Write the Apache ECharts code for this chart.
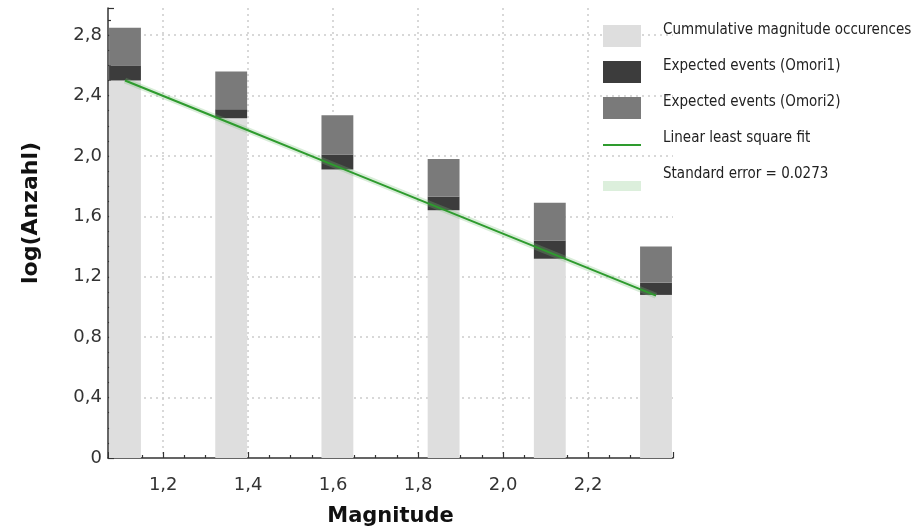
<!DOCTYPE html>
<html><head><meta charset="utf-8">
<script src="https://cdn.jsdelivr.net/npm/echarts@6/dist/echarts.min.js"></script>
<style>html,body{margin:0;padding:0;background:#fff}#c{width:923px;height:530px}</style>
</head><body><div id="c"></div>
<script>
// ---- data ----
const magnitudes = [1.11, 1.36, 1.61, 1.86, 2.11, 2.36];
const cumulative = [2.50, 2.25, 1.91, 1.64, 1.32, 1.08];
const omori1 = [2.60, 2.31, 2.01, 1.73, 1.44, 1.16];
const omori2 = [2.85, 2.56, 2.27, 1.98, 1.69, 1.40];
const fitValues = [2.50, 2.215, 1.93, 1.645, 1.36, 1.075];
const standardError = 0.0273;
const xTickValues = [1.2, 1.4, 1.6, 1.8, 2.0, 2.2];
const xTickLabels = ['1,2', '1,4', '1,6', '1,8', '2,0', '2,2'];
const yTickValues = [0, 0.4, 0.8, 1.2, 1.6, 2.0, 2.4, 2.8];
const yTickLabels = ['0', '0,4', '0,8', '1,2', '1,6', '2,0', '2,4', '2,8'];
const seriesNames = ['Cummulative magnitude occurences', 'Expected events (Omori1)', 'Expected events (Omori2)', 'Linear least square fit', 'Standard error = ' + standardError];

// ---- styling ----
const HALF_BAR = 0.0375;
const labelFont = "'DejaVu Sans', 'Open Sans', sans-serif";
const legendFont = "'DejaVu Sans Condensed', 'Liberation Sans Narrow', 'Roboto', sans-serif";
const ICON_RECT = 'path://M0,0M0,12L38,12L38,34L0,34Z';
const ICON_LINE = 'path://M0,0M0,23L38,23L38,25L0,25ZM38,34';
const ICON_BAND = 'path://M0,0M0,24L38,24L38,34L0,34Z';

function lookup(vals, labels, v) {
  for (let i = 0; i < vals.length; i++) if (Math.abs(vals[i] - v) < 1e-6) return labels[i];
  return '';
}
function segData(lo, hi) { return magnitudes.map((m, i) => [m, lo ? lo[i] : 0, hi[i]]); }
function renderSeg(params, api) {
  const x = api.value(0), lo = api.value(1), hi = api.value(2);
  const p1 = api.coord([x - HALF_BAR, hi]);
  const p2 = api.coord([x + HALF_BAR, lo]);
  return { type: 'rect', shape: { x: p1[0], y: p1[1], width: p2[0] - p1[0], height: p2[1] - p1[1] },
    style: { fill: api.visual('color') } };
}
function pairs(vals) { return magnitudes.map((m, i) => [m, vals[i]]); }

const chart = echarts.init(document.getElementById('c'), null, { renderer: 'canvas' });
chart.setOption({
  animation: false,
  backgroundColor: '#fff',
  grid: { left: 108, right: 250, top: 8, bottom: 72, containLabel: false, outerBoundsMode: 'none' },
  legend: {
    orient: 'vertical', left: 603, top: 13, padding: 0,
    itemWidth: 38, itemHeight: 34, itemGap: 2,
    textStyle: { fontFamily: legendFont, fontSize: 15, color: '#222', padding: [0, 0, 0, 17] },
    data: [
      { name: seriesNames[0], icon: ICON_RECT },
      { name: seriesNames[1], icon: ICON_RECT },
      { name: seriesNames[2], icon: ICON_RECT },
      { name: seriesNames[3], icon: ICON_LINE, itemStyle: { color: '#2e9b2e' } },
      { name: seriesNames[4], icon: ICON_BAND, itemStyle: { color: '#dcefdc' } }
    ]
  },
  xAxis: {
    type: 'value', min: 1.07, max: 2.4, minInterval: 0.2, maxInterval: 0.2, splitNumber: 6,
    name: 'Magnitude', nameLocation: 'middle', nameGap: 48,
    nameTextStyle: { fontFamily: labelFont, fontSize: 21, fontWeight: 'bold', color: '#111' },
    axisLine: { show: true, onZero: false, lineStyle: { color: '#333', width: 1.5 } },
    axisTick: { show: true, inside: true, length: 6, lineStyle: { color: '#333', width: 1.2 } },
    minorTick: { show: true, splitNumber: 4, length: 3, lineStyle: { color: '#333', width: 1.2 } },
    axisLabel: { margin: 18, fontFamily: labelFont, fontSize: 18, color: '#333', showMinLabel: false, showMaxLabel: false,
      formatter: v => lookup(xTickValues, xTickLabels, v) },
    splitLine: { show: true, showMinLine: false, showMaxLine: false, lineStyle: { color: '#cccccc', type: [2, 4], width: 1.5 } }
  },
  yAxis: {
    type: 'value', min: 0, max: 2.98, minInterval: 0.4, maxInterval: 0.4, splitNumber: 7,
    name: 'log(Anzahl)', nameLocation: 'middle', nameGap: 66,
    nameTextStyle: { fontFamily: labelFont, fontSize: 22, fontWeight: 'bold', color: '#111', padding: [0, 0, 0, 40] },
    axisLine: { show: true, lineStyle: { color: '#333', width: 1.5 } },
    axisTick: { show: true, inside: true, length: 6, lineStyle: { color: '#333', width: 1.2 } },
    minorTick: { show: true, splitNumber: 4, length: 3, lineStyle: { color: '#333', width: 1.2 } },
    axisLabel: { margin: 6, fontFamily: labelFont, fontSize: 18, color: '#333', showMaxLabel: false,
      formatter: v => lookup(yTickValues, yTickLabels, v) },
    splitLine: { show: true, showMinLine: false, showMaxLine: false, lineStyle: { color: '#cccccc', type: [2, 4], width: 1.5 } }
  },
  series: [
    { name: seriesNames[0], type: 'custom', renderItem: renderSeg, itemStyle: { color: '#dedede' },
      encode: { x: 0, y: [1, 2] }, data: segData(null, cumulative), z: 2 },
    { name: seriesNames[1], type: 'custom', renderItem: renderSeg, itemStyle: { color: '#3c3c3c' },
      encode: { x: 0, y: [1, 2] }, data: segData(cumulative, omori1), z: 2 },
    { name: seriesNames[2], type: 'custom', renderItem: renderSeg, itemStyle: { color: '#7a7a7a' },
      encode: { x: 0, y: [1, 2] }, data: segData(omori1, omori2), z: 2 },
    { name: seriesNames[3], type: 'line', symbol: 'none', data: pairs(fitValues), z: 4,
      itemStyle: { color: '#2e9b2e' }, lineStyle: { color: '#2e9b2e', width: 2 } },
    { name: seriesNames[4], type: 'line', symbol: 'none', data: pairs(fitValues), z: 3,
      itemStyle: { color: '#dcefdc' }, lineStyle: { color: 'rgba(120,190,120,0.28)', width: 6 } }
  ]
});
</script></body></html>
